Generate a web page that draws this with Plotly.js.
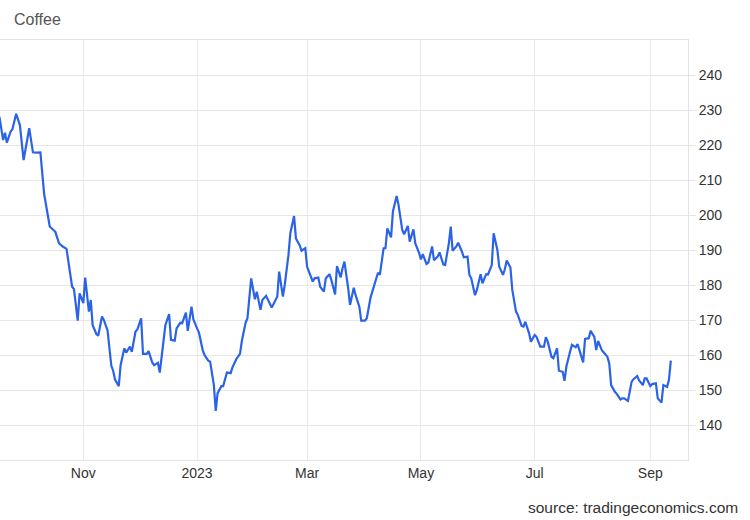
<!DOCTYPE html>
<html>
<head>
<meta charset="utf-8">
<script src="https://cdn.plot.ly/plotly-3.0.1.min.js"></script>
<style>
  html, body { margin: 0; padding: 0; background: #ffffff; }
  #chart { width: 750px; height: 520px; }
</style>
</head>
<body>
<div id="chart"></div>
<script>
// ---- Data ----
const dates = [
  "2022-09-16","2022-09-17","2022-09-19","2022-09-20","2022-09-21","2022-09-23","2022-09-24","2022-09-26","2022-09-28","2022-09-30",
  "2022-10-03","2022-10-05","2022-10-07","2022-10-09","2022-10-11","2022-10-14","2022-10-17","2022-10-19","2022-10-21","2022-10-23",
  "2022-10-26","2022-10-27","2022-10-29","2022-10-30","2022-11-01","2022-11-02","2022-11-04","2022-11-05","2022-11-06","2022-11-08",
  "2022-11-09","2022-11-11","2022-11-12","2022-11-14","2022-11-16","2022-11-17","2022-11-18","2022-11-20","2022-11-21","2022-11-23",
  "2022-11-24","2022-11-26","2022-11-27","2022-11-29","2022-11-30","2022-12-02","2022-12-03","2022-12-05","2022-12-06","2022-12-08",
  "2022-12-09","2022-12-11","2022-12-12","2022-12-14","2022-12-15","2022-12-17","2022-12-18","2022-12-20","2022-12-21","2022-12-23",
  "2022-12-24","2022-12-26","2022-12-27","2022-12-29","2022-12-30","2023-01-01","2023-01-02","2023-01-04","2023-01-05","2023-01-07",
  "2023-01-08","2023-01-10","2023-01-11","2023-01-12","2023-01-14","2023-01-15","2023-01-17","2023-01-19","2023-01-20","2023-01-22",
  "2023-01-24","2023-01-25","2023-01-27","2023-01-28","2023-01-30","2023-02-01","2023-02-02","2023-02-04","2023-02-05","2023-02-07",
  "2023-02-08","2023-02-10","2023-02-11","2023-02-13","2023-02-14","2023-02-16","2023-02-17","2023-02-19","2023-02-20","2023-02-22",
  "2023-02-23","2023-02-25","2023-02-26","2023-02-28","2023-03-01","2023-03-02","2023-03-04","2023-03-05","2023-03-07","2023-03-08",
  "2023-03-10","2023-03-11","2023-03-13","2023-03-14","2023-03-16","2023-03-17","2023-03-19","2023-03-20","2023-03-21","2023-03-23",
  "2023-03-24","2023-03-26","2023-03-27","2023-03-29","2023-03-30","2023-04-01","2023-04-02","2023-04-04","2023-04-06","2023-04-08",
  "2023-04-09","2023-04-11","2023-04-12","2023-04-13","2023-04-15","2023-04-16","2023-04-18","2023-04-19","2023-04-21","2023-04-22",
  "2023-04-24","2023-04-25","2023-04-27","2023-04-28","2023-04-30","2023-05-01","2023-05-02","2023-05-04","2023-05-05","2023-05-07",
  "2023-05-08","2023-05-10","2023-05-11","2023-05-13","2023-05-14","2023-05-16","2023-05-17","2023-05-18","2023-05-20","2023-05-21",
  "2023-05-23","2023-05-24","2023-05-26","2023-05-27","2023-05-28","2023-05-30","2023-05-31","2023-06-02","2023-06-03","2023-06-05",
  "2023-06-06","2023-06-08","2023-06-09","2023-06-11","2023-06-12","2023-06-14","2023-06-15","2023-06-16","2023-06-18","2023-06-19",
  "2023-06-21","2023-06-22","2023-06-24","2023-06-25","2023-06-26","2023-06-28","2023-06-29","2023-07-01","2023-07-02","2023-07-04",
  "2023-07-06","2023-07-07","2023-07-08","2023-07-10","2023-07-11","2023-07-13","2023-07-14","2023-07-16","2023-07-17","2023-07-18",
  "2023-07-20","2023-07-21","2023-07-23","2023-07-24","2023-07-25","2023-07-27","2023-07-28","2023-07-30","2023-07-31","2023-08-02",
  "2023-08-03","2023-08-04","2023-08-06","2023-08-07","2023-08-09","2023-08-10","2023-08-11","2023-08-13","2023-08-14","2023-08-16",
  "2023-08-17","2023-08-18","2023-08-20","2023-08-22","2023-08-23","2023-08-25","2023-08-26","2023-08-28","2023-08-29","2023-08-30",
  "2023-09-01","2023-09-02","2023-09-04","2023-09-05","2023-09-07","2023-09-08","2023-09-10","2023-09-11","2023-09-12"
];
const coffee = [
  223.8,228.1,221.4,223.5,220.7,223.8,224.5,228.9,225.7,215.7,
  224.8,217.9,217.8,217.9,206.0,196.7,195.2,191.9,191.0,190.3,
  179.5,178.8,169.8,177.6,174.8,182.1,172.4,175.7,168.5,166.0,
  165.5,171.0,170.0,167.0,157.0,155.5,153.0,151.1,157.1,161.9,
  160.7,162.4,160.9,166.7,167.3,170.5,160.3,160.3,161.1,157.8,
  157.1,157.8,155.0,165.4,168.5,171.7,164.3,164.1,167.6,169.2,
  169.1,172.1,166.9,173.8,170.2,167.6,166.4,161.4,160.0,158.4,
  158.1,151.4,144.0,149.1,151.1,151.1,155.0,154.8,156.5,158.8,
  160.3,164.0,169.2,170.5,181.9,175.9,178.1,172.9,175.7,176.9,
  175.9,173.6,174.6,176.7,183.8,176.7,180.0,188.6,194.8,199.7,
  193.3,191.4,189.8,190.5,185.2,183.8,181.0,181.9,182.1,179.5,
  178.1,181.9,183.1,181.4,177.3,185.4,182.2,184.8,186.7,179.1,
  174.3,179.2,177.1,173.8,169.8,169.8,170.5,176.4,180.0,183.5,
  182.9,190.5,190.5,196.2,193.6,201.0,205.4,202.9,195.7,194.5,
  196.9,192.4,195.9,191.9,189.2,187.3,188.8,186.0,186.4,191.0,
  187.1,188.1,189.3,185.9,185.7,191.9,196.7,189.8,191.0,192.1,
  189.5,187.9,188.1,182.9,181.9,177.1,178.6,183.1,180.5,183.1,
  183.0,185.7,194.8,190.0,185.2,182.9,184.5,187.0,185.0,178.6,
  172.4,171.4,168.3,168.1,169.5,166.2,163.8,165.7,165.2,162.4,
  162.4,165.1,163.8,159.5,159.1,161.9,155.5,155.2,152.6,156.7,
  161.0,162.9,162.2,163.1,161.4,157.9,164.6,164.8,166.9,165.2,
  161.4,164.0,161.4,160.7,159.5,157.5,151.4,149.5,148.9,147.3,
  147.6,147.6,146.9,152.4,153.1,154.0,152.7,151.4,153.3,153.3,
  151.1,151.7,151.9,147.6,146.4,151.4,150.9,152.9,158.4
];
const xTickDates  = ["2022-11-01","2023-01-01","2023-03-01","2023-05-01","2023-07-01","2023-09-01"];
const xTickLabels = ["Nov","2023","Mar","May","Jul","Sep"];
const yTickValues = [140,150,160,170,180,190,200,210,220,230,240];
const chartTitle  = "Coffee";
const sourceText  = "source: tradingeconomics.com";

// ---- Chart ----
const fontFamily = 'Arial, "Liberation Sans", Helvetica, sans-serif';

const trace = {
  type: 'scatter',
  mode: 'lines',
  x: dates,
  y: coffee,
  line: { color: '#2b63e8', width: 2.2 },
  hoverinfo: 'x+y'
};

const layout = {
  width: 750,
  height: 520,
  margin: { l: 0, r: 62, t: 40, b: 60, pad: 0 },
  paper_bgcolor: '#ffffff',
  plot_bgcolor: '#ffffff',
  showlegend: false,
  font: { family: fontFamily, size: 14, color: '#333333' },
  title: {
    text: chartTitle,
    xref: 'container', yref: 'container',
    x: 14 / 750, xanchor: 'left',
    y: 1 - 19 / 520, yanchor: 'middle',
    font: { family: fontFamily, size: 16, color: '#555555' }
  },
  xaxis: {
    type: 'date',
    range: ['2022-09-17 08:00', '2023-09-21 05:00'],
    tickmode: 'array',
    tickvals: xTickDates,
    ticktext: xTickLabels,
    showgrid: true,
    gridcolor: '#ebebeb',
    gridwidth: 1,
    showline: true,
    linecolor: '#e2e2e2',
    linewidth: 1,
    mirror: true,
    ticks: '',
    zeroline: false,
    tickfont: { family: fontFamily, size: 14, color: '#333333' },
    fixedrange: true
  },
  yaxis: {
    side: 'right',
    range: [130, 250],
    tickmode: 'array',
    tickvals: yTickValues,
    showgrid: true,
    gridcolor: '#e6e6e6',
    gridwidth: 1,
    showline: true,
    linecolor: '#e2e2e2',
    linewidth: 1,
    ticks: 'outside',
    ticklen: 7,
    tickcolor: '#e6e6e6',
    zeroline: false,
    tickfont: { family: fontFamily, size: 14, color: '#333333' },
    fixedrange: true
  },
  annotations: [{
    text: sourceText,
    xref: 'paper', yref: 'paper',
    x: 740 / 688, xanchor: 'right',
    y: -(507 - 460) / 420, yanchor: 'middle',
    showarrow: false,
    font: { family: fontFamily, size: 15.5, color: '#333333' }
  }]
};

Plotly.newPlot('chart', [trace], layout, { displayModeBar: false, staticPlot: true });
</script>
</body>
</html>
